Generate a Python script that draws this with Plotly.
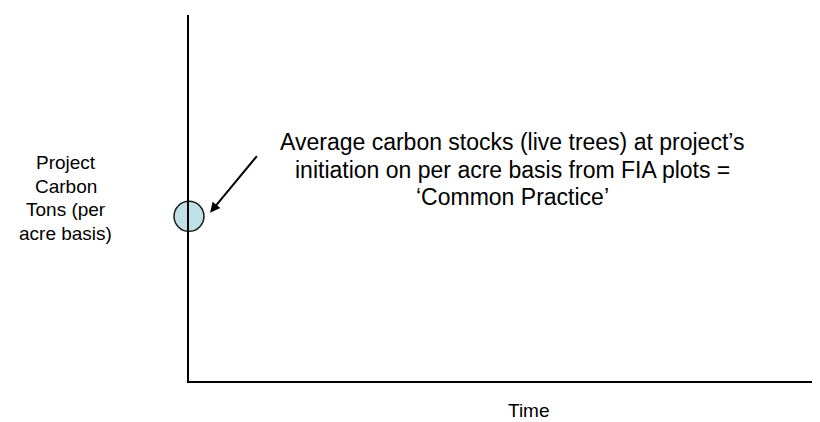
import plotly.graph_objects as go

# Data
time = [0]
carbon = [4.5]
y_label_lines = ["Project", "Carbon", "Tons (per", "acre basis)"]
note_lines = ["Average carbon stocks (live trees) at project\u2019s",
              "initiation on per acre basis from FIA plots =",
              "\u2018Common Practice\u2019"]
x_title = "Time"

W, H = 820, 422
FONT = "Liberation Sans, Arial, sans-serif"

fig = go.Figure()
fig.add_trace(go.Scatter(
    x=time, y=carbon, mode="markers",
    marker=dict(size=30, color="#bfe1e5", line=dict(color="#1a1a1a", width=1.5)),
    cliponaxis=False, hoverinfo="skip", showlegend=False))

x0, x1 = 181, 820
y0, y1 = 373, 7
fig.update_layout(
    width=W, height=H,
    margin=dict(l=0, r=0, t=0, b=0),
    paper_bgcolor="white", plot_bgcolor="white",
    xaxis=dict(domain=[x0 / W, x1 / W], range=[0, 10], showline=True,
               linecolor="black", linewidth=2, showgrid=False, zeroline=False,
               showticklabels=False, ticks=""),
    yaxis=dict(domain=[1 - y0 / H, 1 - y1 / H], range=[0, 10], showline=True,
               linecolor="black", linewidth=2, showgrid=False, zeroline=False,
               showticklabels=False, ticks=""),
)

# arrow pointing to the point
fig.add_annotation(x=0.33, y=4.6, xref="x", yref="y", text="", showarrow=True,
                   ax=48, ay=-58, arrowhead=2, arrowsize=1, arrowwidth=2,
                   arrowcolor="black")

for line, py in zip(note_lines, [134, 162, 189]):
    fig.add_annotation(x=504 / W, y=1 - py / H, xref="paper", yref="paper",
                       text=line, showarrow=False, xanchor="center", yanchor="middle",
                       font=dict(family=FONT, size=23, color="black"))

for line, py in zip(y_label_lines, [155, 178, 202, 225]):
    fig.add_annotation(x=58 / W, y=1 - py / H, xref="paper", yref="paper",
                       text=line, showarrow=False, xanchor="center", yanchor="middle",
                       font=dict(family=FONT, size=19, color="black"))

fig.add_annotation(x=521 / W, y=1 - 402 / H, xref="paper", yref="paper",
                   text=x_title, showarrow=False, xanchor="center", yanchor="middle",
                   borderpad=0,
                   font=dict(family=FONT, size=19, color="black"))

fig.write_html("out.html")
